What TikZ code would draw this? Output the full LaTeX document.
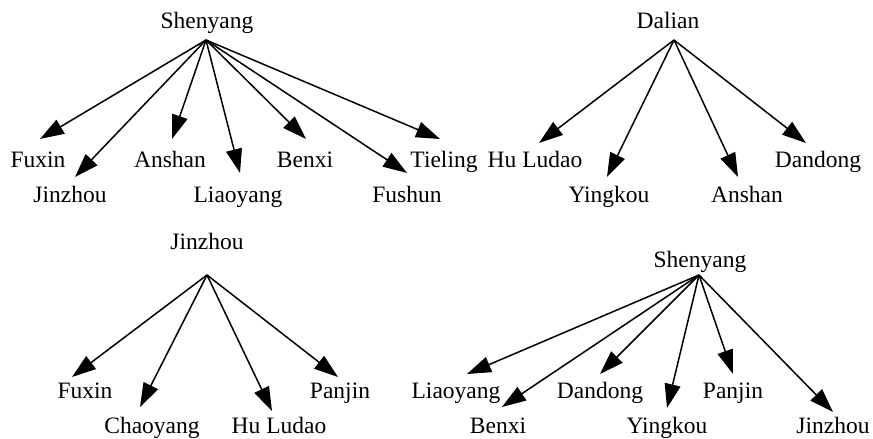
\documentclass[tikz,border=0pt]{standalone}
\usepackage{fontspec}
\setmainfont{Liberation Serif}
\usetikzlibrary{arrows.meta}
\begin{document}
\begin{tikzpicture}[x=1pt,y=-1pt,
  lbl/.style={anchor=base,inner sep=0pt,font=\fontsize{23.5}{28}\selectfont},
  edge/.style={line width=1.5pt,-{Triangle[length=24pt,width=16pt]}}]
\useasboundingbox (0,0) rectangle (873,439);
% Tree 1
\node[lbl] (s1) at (207,28) {Shenyang};
\coordinate (r1) at (206,40);
\node[lbl] (a1) at (38,167) {Fuxin};
\node[lbl] (a2) at (70,202) {Jinzhou};
\node[lbl] (a3) at (170,167) {Anshan};
\node[lbl] (a4) at (238,202) {Liaoyang};
\node[lbl] (a5) at (305,167) {Benxi};
\node[lbl] (a6) at (407,202) {Fushun};
\node[lbl] (a7) at (444,167) {Tieling};
\coordinate (ta1) at (40,139);
\coordinate (ta2) at (75,177);
\coordinate (ta3) at (172,139);
\coordinate (ta4) at (240,173);
\coordinate (ta5) at (306,139);
\coordinate (ta6) at (407,173);
\coordinate (ta7) at (440,139);
\foreach \i in {1,...,7} \draw[edge] (r1) -- (ta\i);
% Tree 2
\node[lbl] (s2) at (668,28) {Dalian};
\coordinate (r2) at (674,40);
\node[lbl] (b1) at (535,167) {Hu Ludao};
\node[lbl] (b2) at (609,202) {Yingkou};
\node[lbl] (b3) at (747,202) {Anshan};
\node[lbl] (b4) at (818,167) {Dandong};
\coordinate (tb1) at (539,143);
\coordinate (tb2) at (607,177);
\coordinate (tb3) at (738,177);
\coordinate (tb4) at (806,143);
\foreach \i in {1,...,4} \draw[edge] (r2) -- (tb\i);
% Tree 3
\node[lbl] (s3) at (207,249) {Jinzhou};
\coordinate (r3) at (207,275);
\node[lbl] (c1) at (85,398) {Fuxin};
\node[lbl] (c2) at (152,433) {Chaoyang};
\node[lbl] (c3) at (279,433) {Hu Ludao};
\node[lbl] (c4) at (340,398) {Panjin};
\coordinate (tc1) at (72,377);
\coordinate (tc2) at (140,407);
\coordinate (tc3) at (272,411);
\coordinate (tc4) at (338,377);
\foreach \i in {1,...,4} \draw[edge] (r3) -- (tc\i);
% Tree 4
\node[lbl] (s4) at (700,267) {Shenyang};
\coordinate (r4) at (699,275);
\node[lbl] (d1) at (456,398) {Liaoyang};
\node[lbl] (d2) at (498,433) {Benxi};
\node[lbl] (d3) at (600,398) {Dandong};
\node[lbl] (d4) at (667,433) {Yingkou};
\node[lbl] (d5) at (733,398) {Panjin};
\node[lbl] (d6) at (833,433) {Jinzhou};
\coordinate (td1) at (467,374);
\coordinate (td2) at (502,407);
\coordinate (td3) at (600,374);
\coordinate (td4) at (667,408);
\coordinate (td5) at (733,374);
\coordinate (td6) at (833,412);
\foreach \i in {1,...,6} \draw[edge] (r4) -- (td\i);
\end{tikzpicture}
\end{document}
